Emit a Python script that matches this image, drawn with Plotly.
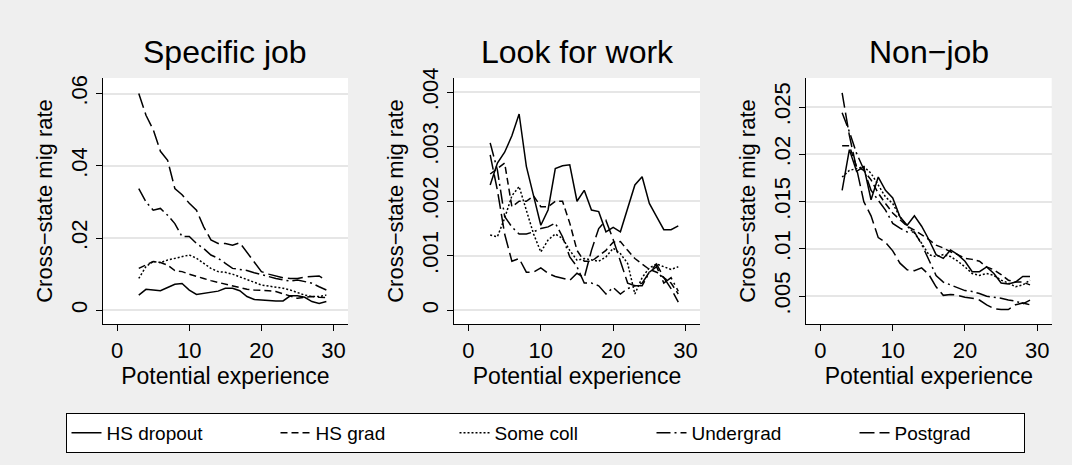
import plotly.graph_objects as go

experience = list(range(3, 30))

panel_titles = ["Specific job", "Look for work", "Non\u2212job"]
series_names = ["HS dropout", "HS grad", "Some coll", "Undergrad", "Postgrad"]

# Specific job
spec_hs_dropout = [0.0042, 0.0058, 0.0056, 0.0054, 0.0063, 0.0072, 0.0074, 0.0056, 0.0044, 0.0047,
                   0.0052, 0.0053, 0.0061, 0.0061, 0.0054, 0.0038, 0.0030, 0.0028, 0.0027, 0.0026,
                   0.0026, 0.0040, 0.0040, 0.0036, 0.0024, 0.0019, 0.0024]
spec_hs_grad = [0.0116, 0.0125, 0.0135, 0.0132, 0.0125, 0.0110, 0.0107, 0.0100, 0.0095, 0.0088,
                0.0082, 0.0077, 0.0073, 0.0067, 0.0061, 0.0058, 0.0056, 0.0056, 0.0054, 0.0052,
                0.0045, 0.0038, 0.0033, 0.0036, 0.0038, 0.0036, 0.0035]
spec_some_coll = [0.0088, 0.0121, 0.0135, 0.0132, 0.0139, 0.0144, 0.0150, 0.0153, 0.0144, 0.0130,
                  0.0116, 0.0107, 0.0105, 0.0100, 0.0093, 0.0086, 0.0077, 0.0070, 0.0067, 0.0065,
                  0.0061, 0.0056, 0.0049, 0.0042, 0.0038, 0.0038, 0.0042]
spec_undergrad = [0.0337, 0.0300, 0.0277, 0.0282, 0.0263, 0.0240, 0.0204, 0.0204, 0.0185, 0.0171,
                  0.0153, 0.0144, 0.0130, 0.0116, 0.0113, 0.0110, 0.0104, 0.0098, 0.0093, 0.0088,
                  0.0084, 0.0081, 0.0084, 0.0079, 0.0075, 0.0065, 0.0056]
spec_postgrad = [0.0600, 0.0540, 0.0500, 0.0440, 0.0415, 0.0337, 0.0320, 0.0296, 0.0277, 0.0231,
                 0.0195, 0.0185, 0.0185, 0.0180, 0.0187, 0.0160, 0.0134, 0.0107, 0.0100, 0.0095,
                 0.0090, 0.0088, 0.0088, 0.0092, 0.0094, 0.0095, 0.0082]

# Look for work
look_hs_dropout = [0.00230, 0.00270, 0.00290, 0.00320, 0.00360, 0.00264, 0.00210, 0.00156, 0.00184, 0.00260,
                   0.00265, 0.00267, 0.00200, 0.00220, 0.00184, 0.00181, 0.00144, 0.00152, 0.00144, 0.00187,
                   0.00230, 0.00245, 0.00196, 0.00172, 0.00148, 0.00148, 0.00155]
look_hs_grad = [0.00250, 0.00260, 0.00270, 0.00190, 0.00200, 0.00200, 0.00210, 0.00190, 0.00190, 0.00200,
                0.00200, 0.00160, 0.00110, 0.00090, 0.00090, 0.00100, 0.00110, 0.00125, 0.00126, 0.00110,
                0.00095, 0.00085, 0.00075, 0.00070, 0.00060, 0.00050, 0.00030]
look_some_coll = [0.00138, 0.00135, 0.00169, 0.00210, 0.00227, 0.00184, 0.00140, 0.00107, 0.00129, 0.00140,
                  0.00132, 0.00110, 0.00092, 0.00095, 0.00092, 0.00090, 0.00098, 0.00114, 0.00104, 0.00086,
                  0.00030, 0.00060, 0.00078, 0.00085, 0.00080, 0.00075, 0.00080]
look_undergrad = [0.00307, 0.00257, 0.00172, 0.00153, 0.00140, 0.00140, 0.00144, 0.00150, 0.00153, 0.00160,
                  0.00135, 0.00098, 0.00080, 0.00050, 0.00050, 0.00045, 0.00030, 0.00042, 0.00030, 0.00040,
                  0.00045, 0.00045, 0.00070, 0.00080, 0.00050, 0.00060, 0.00035]
look_postgrad = [0.00285, 0.00220, 0.00140, 0.00090, 0.00095, 0.00070, 0.00070, 0.00078, 0.00068, 0.00062,
                 0.00059, 0.00055, 0.00068, 0.00060, 0.00110, 0.00150, 0.00165, 0.00130, 0.00090, 0.00050,
                 0.00045, 0.00050, 0.00070, 0.00085, 0.00060, 0.00040, 0.00015]

# Non-job
non_hs_dropout = [0.0162, 0.0205, 0.0182, 0.0187, 0.0152, 0.0176, 0.0162, 0.0154, 0.0134, 0.0125,
                  0.0135, 0.0124, 0.0110, 0.0094, 0.0090, 0.0099, 0.0094, 0.0087, 0.0076, 0.0076,
                  0.0081, 0.0074, 0.0064, 0.0063, 0.0065, 0.0071, 0.0071]
non_hs_grad = [0.0209, 0.0209, 0.0187, 0.0183, 0.0173, 0.0159, 0.0148, 0.0138, 0.0131, 0.0124,
               0.0120, 0.0115, 0.0110, 0.0104, 0.0101, 0.0097, 0.0094, 0.0090, 0.0089, 0.0087,
               0.0081, 0.0078, 0.0073, 0.0067, 0.0065, 0.0065, 0.0062]
non_some_coll = [0.0176, 0.0183, 0.0185, 0.0187, 0.0180, 0.0168, 0.0155, 0.0148, 0.0134, 0.0124,
                 0.0117, 0.0106, 0.0094, 0.0092, 0.0094, 0.0092, 0.0087, 0.0081, 0.0074, 0.0072,
                 0.0074, 0.0072, 0.0067, 0.0064, 0.0060, 0.0062, 0.0067]
non_undergrad = [0.0244, 0.0224, 0.0201, 0.0184, 0.0162, 0.0152, 0.0141, 0.0127, 0.0122, 0.0118,
                 0.0118, 0.0105, 0.0088, 0.0072, 0.0065, 0.0062, 0.0059, 0.0056, 0.0055, 0.0053,
                 0.0050, 0.0049, 0.0048, 0.0046, 0.0045, 0.0042, 0.0046]
non_postgrad = [0.0265, 0.0220, 0.0185, 0.0150, 0.0135, 0.0112, 0.0107, 0.0098, 0.0085, 0.0078,
                0.0077, 0.0080, 0.0073, 0.0060, 0.0051, 0.0052, 0.0051, 0.0049, 0.0048, 0.0046,
                0.0041, 0.0037, 0.0036, 0.0036, 0.0041, 0.0043, 0.0041]

panels = [
    [spec_hs_dropout, spec_hs_grad, spec_some_coll, spec_undergrad, spec_postgrad],
    [look_hs_dropout, look_hs_grad, look_some_coll, look_undergrad, look_postgrad],
    [non_hs_dropout, non_hs_grad, non_some_coll, non_undergrad, non_postgrad],
]

y_tickvals = [
    [0, 0.02, 0.04, 0.06],
    [0, 0.001, 0.002, 0.003, 0.004],
    [0.005, 0.01, 0.015, 0.02, 0.025],
]
y_ticktext = [
    ["0", ".02", ".04", ".06"],
    ["0", ".001", ".002", ".003", ".004"],
    [".005", ".01", ".015", ".02", ".025"],
]
y_ranges = [[-0.0038, 0.0643], [-0.00025, 0.00426], [0.00207, 0.02807]]
x_tickvals = [0, 10, 20, 30]

dashes = ["solid", "7px,4px", "2px,2px", "14px,4px,2px,4px", "15px,5px"]
legend_widths = [164, 134, 152, 158, 124]

W, H = 1072, 465
x_domains = [[102.7 / W, 348 / W], [454 / W, 700 / W], [806 / W, 1051.7 / W]]
y_domain = [1 - 324 / H, 1 - 78 / H]

FONT = "Liberation Sans, Arial, Helvetica, sans-serif"
fig = go.Figure()

for p in range(3):
    ax = "" if p == 0 else str(p + 1)
    for s, name in enumerate(series_names):
        fig.add_trace(go.Scatter(
            x=experience, y=panels[p][s], mode="lines", name=name,
            line=dict(color="black", width=1.5, dash=dashes[s]),
            showlegend=(p == 0), legendgroup=name, legendwidth=legend_widths[s],
            xaxis="x" + ax, yaxis="y" + ax,
        ))

layout = dict(
    width=W, height=H,
    margin=dict(l=0, r=0, t=0, b=0, autoexpand=False),
    paper_bgcolor="#efefef",
    plot_bgcolor="white",
    font=dict(family=FONT, color="black"),
    showlegend=True,
    legend=dict(
        orientation="h", x=545 / W, xanchor="center", y=1 - 413 / H, yanchor="top",
        bgcolor="white", bordercolor="black", borderwidth=1,
        font=dict(size=19, family=FONT), traceorder="normal",
    ),
    annotations=[],
)

for p in range(3):
    ax = "" if p == 0 else str(p + 1)
    layout["xaxis" + ax] = dict(
        domain=x_domains[p], anchor="y" + ax, range=[-2, 32],
        tickvals=x_tickvals, ticks="outside", ticklen=6, tickcolor="black",
        showline=True, linecolor="black", linewidth=1.3, showgrid=False, zeroline=False,
        automargin=False,
        tickfont=dict(size=22), title=dict(text="Potential experience", font=dict(size=23), standoff=0),
    )
    layout["yaxis" + ax] = dict(
        domain=y_domain, anchor="x" + ax, range=y_ranges[p],
        tickvals=y_tickvals[p], ticktext=y_ticktext[p], tickangle=-90,
        ticks="outside", ticklen=6, tickcolor="black",
        showline=True, linecolor="black", linewidth=1.3,
        showgrid=True, gridcolor="#e6e6e6", gridwidth=2, zeroline=False,
        automargin=False,
        tickfont=dict(size=22), title=dict(text="Cross\u2212state mig rate", font=dict(size=22), standoff=8),
    )
    cx = (x_domains[p][0] + x_domains[p][1]) / 2
    layout["annotations"].append(dict(
        text=panel_titles[p], x=cx, y=1 - 52 / H, xref="paper", yref="paper",
        xanchor="center", yanchor="middle", showarrow=False, font=dict(size=32, family=FONT),
    ))

fig.update_layout(layout)

# make the figure sit at the page origin (no default body margin)
post = (
    "document.body.style.margin='0';document.body.style.overflow='hidden';"
    "var d=document.getElementById('{plot_id}');"
    "d.style.position='absolute';d.style.left='0px';d.style.top='0px';"
)
fig.write_html("out.html", post_script=post, config={"displayModeBar": False})
